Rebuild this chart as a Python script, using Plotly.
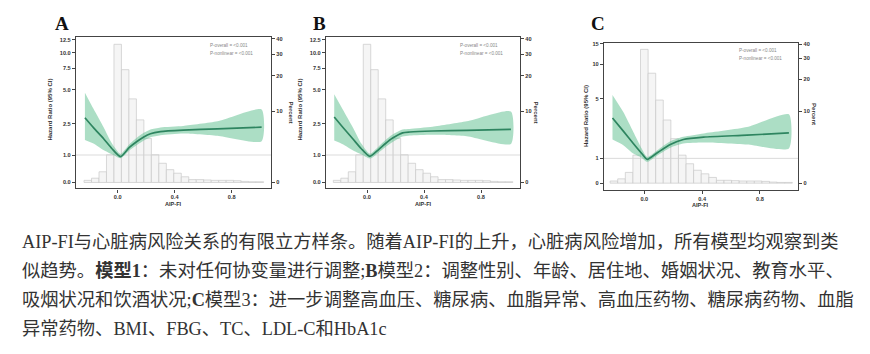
import numpy as np
import plotly.graph_objects as go

# ---------------- data ----------------
# histogram of AIP-FI (shared by all panels), percent of participants
bin_centers = [-0.21, -0.1575, -0.105, -0.0525, 0.0, 0.0525, 0.105, 0.1575, 0.21, 0.2625,
               0.315, 0.3675, 0.42, 0.4725, 0.525, 0.5775, 0.63, 0.6825, 0.735, 0.7875,
               0.84, 0.8925, 0.945, 0.9975]
bin_percent = [0.3, 0.6, 1.5, 3.9, 36.4, 22.8, 13.5, 8.8, 6.2, 3.9,
               2.7, 1.8, 1.3, 0.8, 0.4, 0.4, 0.35, 0.3, 0.3, 0.3,
               0.25, 0.15, 0.1, 0.1]
bin_width = 0.0525

# Model 1 (A)
A_x  = [-0.23, -0.17, -0.10, -0.04, 0.02, 0.08, 0.13, 0.18, 0.23, 0.30, 0.46, 0.70, 1.01]
A_hr = [2.94, 2.31, 1.79, 1.30, 0.94, 1.35, 1.62, 1.85, 2.02, 2.12, 2.19, 2.25, 2.33]
A_hi = [4.80, 3.60, 2.34, 1.55, 1.05, 1.50, 1.80, 2.05, 2.22, 2.32, 2.39, 2.67, 3.55]
A_lo = [1.72, 1.55, 1.24, 1.03, 0.88, 1.20, 1.45, 1.68, 1.85, 1.95, 2.03, 1.92, 1.66]

# Model 2 (B)
B_x  = [-0.23, -0.17, -0.10, -0.04, 0.02, 0.08, 0.13, 0.18, 0.25, 0.30, 0.46, 0.70, 1.01]
B_hr = [2.99, 2.33, 1.78, 1.30, 0.95, 1.25, 1.55, 1.81, 2.06, 2.10, 2.15, 2.18, 2.23]
B_hi = [4.68, 3.55, 2.33, 1.55, 1.06, 1.40, 1.72, 1.98, 2.22, 2.25, 2.35, 2.67, 3.40]
B_lo = [1.70, 1.52, 1.23, 1.03, 0.87, 1.10, 1.38, 1.62, 1.88, 1.93, 1.97, 1.90, 1.53]

# Model 3 (C)
C_x  = [-0.22, -0.145, -0.076, -0.018, 0.02, 0.09, 0.18, 0.27, 0.41, 0.71, 1.00]
C_hr = [3.71, 2.83, 2.00, 1.33, 0.96, 1.38, 1.93, 2.27, 2.43, 2.56, 2.71]
C_hi = [5.57, 4.11, 2.78, 1.67, 1.10, 1.55, 2.15, 2.45, 2.68, 3.11, 3.96]
C_lo = [2.27, 1.89, 1.33, 1.05, 0.86, 1.20, 1.72, 2.00, 2.07, 1.93, 1.67]

hr_ticks_AB = [0.0, 1.0, 2.5, 5.0, 7.5, 10.0, 12.5]
hr_labels_AB = ["0.0", "1.0", "2.5", "5.0", "7.5", "10.0", "12.5"]
hr_ticks_C = [0, 1, 5, 10, 15]
hr_labels_C = ["0", "1", "5", "10", "15"]
pct_ticks = [0, 10, 20, 30, 40]
pct_labels = ["0", "10", "20", "30", "40"]
x_ticks = [0.0, 0.4, 0.8]
x_labels = ["0.0", "0.4", "0.8"]

p_texts = ["P-overall = <0.001", "P-nonlinear = <0.001"]

caption = [
    "AIP-FI与心脏病风险关系的有限立方样条。随着AIP-FI的上升，心脏病风险增加，所有模型均观察到类",
    "似趋势。<b>模型1</b>：未对任何协变量进行调整;<b>B</b>模型2：调整性别、年龄、居住地、婚姻状况、教育水平、",
    "吸烟状况和饮酒状况;<b>C</b>模型3：进一步调整高血压、糖尿病、血脂异常、高血压药物、糖尿病药物、血脂",
    "异常药物、BMI、FBG、TC、LDL-C和HbA1c",
]

# ---------------- layout / scales ----------------
W, H = 870, 354

# axis scale (tick position in axis units, transformed scale of the original figure)
scale_AB = dict(hr_u=[0, 27.7, 59.3, 93.3, 115.3, 131, 143.7], pct_u=[0, 71.7, 107.7, 129.3, 145])
scale_C = dict(hr_u=[0, 25, 85, 120, 140.7], pct_u=[0, 72.4, 105, 126, 140])

panels = [
    dict(letter="A", x=A_x, hr=A_hr, hi=A_hi, lo=A_lo, xpx=(76, 271), ypx=(34, 187),
         x0px=117.7, ppu=142.5, yr=[-6, 147], ticks=hr_ticks_AB, labels=hr_labels_AB, sc=scale_AB,
         letter_x=62.5, letter_y=21, ptx=208, pty=(43.3, 50.7),
         ytitle=(50.5, 108), rtitle=(290.5, 110), xtitle=(173.5, 203)),
    dict(letter="B", x=B_x, hr=B_hr, hi=B_hi, lo=B_lo, xpx=(326, 520), ypx=(34, 187),
         x0px=367, ppu=142.5, yr=[-6, 147], ticks=hr_ticks_AB, labels=hr_labels_AB, sc=scale_AB,
         letter_x=319, letter_y=21, ptx=458, pty=(43.3, 50.7),
         ytitle=(300.5, 108), rtitle=(535.5, 110), xtitle=(423, 203)),
    dict(letter="C", x=C_x, hr=C_hr, hi=C_hi, lo=C_lo, xpx=(604, 798.3), ypx=(40.7, 188.3),
         x0px=644.3, ppu=144.6, yr=[-6.6, 141], ticks=hr_ticks_C, labels=hr_labels_C, sc=scale_C,
         letter_x=597.5, letter_y=21, ptx=737, pty=(48.3, 56),
         ytitle=(586, 114), rtitle=(814, 112), xtitle=(700.7, 203.5)),
]

AXC = "#444444"
TICKFONT = dict(family="Liberation Sans, Arial", size=5.6, color="#333333", weight="bold")
LINE_COLOR = "#2e8560"
BAND_COLOR = "rgba(104,194,150,0.55)"

fig = go.Figure()
layout = dict(width=W, height=H, margin=dict(l=0, r=0, t=0, b=0),
              paper_bgcolor="white", plot_bgcolor="white", showlegend=False)
annotations = []

for i, p in enumerate(panels):
    n = i + 1
    xa = "x" if n == 1 else f"x{n}"
    yl_id, yr_id = 2 * i + 1, 2 * i + 2
    yl = "y" if yl_id == 1 else f"y{yl_id}"
    yr = f"y{yr_id}"
    sc = p["sc"]

    def hr_u(v, sc=sc, p=p):
        return np.interp(v, p["ticks"], sc["hr_u"])

    def pct_u(v, sc=sc):
        return np.interp(v, pct_ticks, sc["pct_u"])

    xr = [(p["xpx"][0] - p["x0px"]) / p["ppu"], (p["xpx"][1] - p["x0px"]) / p["ppu"]]
    xdom = [p["xpx"][0] / W, p["xpx"][1] / W]
    ydom = [1 - p["ypx"][1] / H, 1 - p["ypx"][0] / H]

    # histogram
    fig.add_trace(go.Bar(x=bin_centers, y=pct_u(bin_percent), width=bin_width,
                         marker=dict(color="#f5f5f5", line=dict(color="#c8c8c8", width=0.7)),
                         xaxis=xa, yaxis=yl, hoverinfo="skip"))
    # reference line HR = 1
    fig.add_trace(go.Scatter(x=xr, y=[hr_u(1.0)] * 2, mode="lines",
                             line=dict(color="#d2d2d2", width=0.8),
                             xaxis=xa, yaxis=yl, hoverinfo="skip"))
    # CI band
    bx = list(p["x"]) + list(p["x"])[::-1]
    by = list(hr_u(p["hi"])) + list(hr_u(p["lo"]))[::-1]
    fig.add_trace(go.Scatter(x=bx, y=by, mode="lines", fill="toself", fillcolor=BAND_COLOR,
                             line=dict(width=0, shape="spline", smoothing=0.6),
                             xaxis=xa, yaxis=yl, hoverinfo="skip"))
    # HR curve
    fig.add_trace(go.Scatter(x=p["x"], y=hr_u(p["hr"]), mode="lines",
                             line=dict(color=LINE_COLOR, width=1.7, shape="spline", smoothing=0.6),
                             xaxis=xa, yaxis=yl))
    # dummy trace for right axis
    fig.add_trace(go.Scatter(x=[None], y=[None], mode="lines", xaxis=xa, yaxis=yr,
                             hoverinfo="skip", showlegend=False))

    xkey = "xaxis" if n == 1 else f"xaxis{n}"
    ylkey = "yaxis" if yl_id == 1 else f"yaxis{yl_id}"
    yrkey = f"yaxis{yr_id}"
    layout[xkey] = dict(domain=xdom, range=xr, anchor=yl, tickvals=x_ticks, ticktext=x_labels,
                        showline=True, mirror=True, linecolor=AXC, linewidth=1.3,
                        ticks="outside", ticklen=3, tickwidth=1, tickcolor=AXC,
                        showgrid=False, zeroline=False, tickfont=TICKFONT)
    layout[ylkey] = dict(domain=ydom, range=p["yr"], anchor=xa,
                         tickvals=list(sc["hr_u"]), ticktext=p["labels"],
                         showline=True, linecolor=AXC, linewidth=1.3,
                         ticks="outside", ticklen=3, tickwidth=1, tickcolor=AXC,
                         showgrid=False, zeroline=False, tickfont=TICKFONT)
    layout[yrkey] = dict(overlaying=yl, side="right", range=p["yr"], anchor=xa,
                         tickvals=list(sc["pct_u"]), ticktext=pct_labels,
                         showline=True, linecolor=AXC, linewidth=1.3,
                         ticks="outside", ticklen=3, tickwidth=1, tickcolor=AXC,
                         showgrid=False, zeroline=False, tickfont=TICKFONT)

    # annotations
    annotations.append(dict(text=f"<b>{p['letter']}</b>", x=p["letter_x"] / W, y=1 - p["letter_y"] / H,
                            xref="paper", yref="paper", showarrow=False, xanchor="center", yanchor="middle",
                            font=dict(family="Liberation Serif, DejaVu Serif", size=19, color="#111111")))
    for t, ty in zip(p_texts, p["pty"]):
        annotations.append(dict(text=t, x=p["ptx"] / W, y=1 - ty / H, xref="paper", yref="paper",
                                showarrow=False, xanchor="left", yanchor="middle",
                                font=dict(family="Liberation Sans, Arial", size=4.6, color="#888888")))
    annotations.append(dict(text="<b>Hazard Ratio (95% CI)</b>", x=p["ytitle"][0] / W, y=1 - p["ytitle"][1] / H,
                            xref="paper", yref="paper", showarrow=False, textangle=-90,
                            xanchor="center", yanchor="middle",
                            font=dict(family="Liberation Sans, Arial", size=6, color="#333333")))
    annotations.append(dict(text="<b>Percent</b>", x=p["rtitle"][0] / W, y=1 - p["rtitle"][1] / H,
                            xref="paper", yref="paper", showarrow=False, textangle=90,
                            xanchor="center", yanchor="middle",
                            font=dict(family="Liberation Sans, Arial", size=6, color="#333333")))
    annotations.append(dict(text="<b>AIP-FI</b>", x=p["xtitle"][0] / W, y=1 - p["xtitle"][1] / H,
                            xref="paper", yref="paper", showarrow=False,
                            xanchor="center", yanchor="middle",
                            font=dict(family="Liberation Sans, Arial", size=5.6, color="#333333")))

cap_y = [241, 270, 299.5, 328.5]
for line, cy in zip(caption, cap_y):
    annotations.append(dict(text=line, x=20 / W, y=1 - cy / H, xref="paper", yref="paper",
                            showarrow=False, xanchor="left", yanchor="middle",
                            font=dict(family="Liberation Serif, Noto Sans CJK SC", size=18.3, color="#333333")))

layout["annotations"] = annotations
fig.update_layout(**layout)
fig.write_html("out.html")
